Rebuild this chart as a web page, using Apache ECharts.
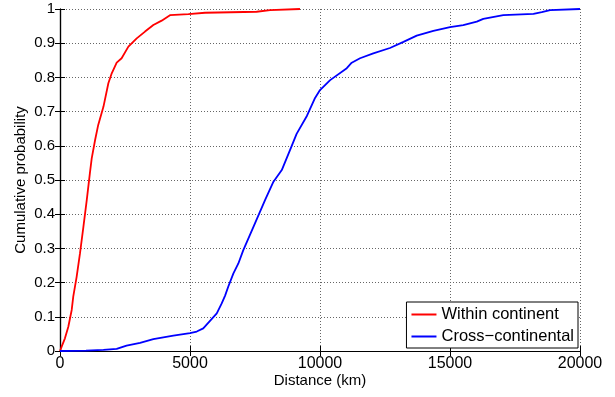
<!DOCTYPE html>
<html>
<head>
<meta charset="utf-8">
<script src="https://cdn.jsdelivr.net/npm/echarts@6/dist/echarts.min.js"></script>
<style>
  html, body { margin: 0; padding: 0; background: #fff; }
  #main { width: 615px; height: 397px; }
</style>
</head>
<body>
<div id="main"></div>
<script>
// 数据：累积分布曲线
var withinX = [0, 60, 190, 320, 450, 510, 640, 770, 900, 1030, 1150, 1220, 1350, 1470, 1670, 1860, 1990, 2180, 2370, 2630, 2950, 3270, 3590, 3910, 4230, 4940, 5580, 7560, 8080, 9230];
var withinY = [0, 0.012, 0.037, 0.071, 0.12, 0.159, 0.217, 0.286, 0.363, 0.442, 0.52, 0.563, 0.617, 0.661, 0.714, 0.783, 0.812, 0.843, 0.856, 0.89, 0.914, 0.934, 0.953, 0.966, 0.982, 0.985, 0.989, 0.992, 0.997, 1.0];

var crossX = [0, 1000, 1670, 2180, 2560, 3080, 3590, 4360, 5000, 5260, 5510, 5770, 6030, 6220, 6350, 6470, 6670, 6860, 7050, 7440, 7890, 8210, 8530, 8850, 9100, 9500, 9810, 10000, 10390, 11030, 11220, 11540, 12050, 12690, 13210, 13720, 14360, 15000, 15510, 16030, 16280, 17050, 18210, 18530, 18850, 20000];
var crossY = [0, 0.001, 0.003, 0.006, 0.016, 0.024, 0.035, 0.045, 0.052, 0.057, 0.066, 0.088, 0.11, 0.139, 0.162, 0.188, 0.227, 0.256, 0.295, 0.363, 0.442, 0.495, 0.529, 0.588, 0.635, 0.688, 0.74, 0.763, 0.792, 0.827, 0.843, 0.856, 0.87, 0.886, 0.904, 0.922, 0.936, 0.947, 0.953, 0.963, 0.971, 0.982, 0.986, 0.991, 0.997, 1.0];

var seriesNames = ["Within continent", "Cross\u2212continental"];

function pairs(xs, ys) {
  return xs.map(function (x, i) { return [x, ys[i]]; });
}

var font = "'Liberation Sans', Arial, Helvetica, sans-serif";
var gridLine = { show: true, lineStyle: { color: "#666", type: [1, 2], width: 1 } };
var axisLine = { show: true, lineStyle: { color: "#000", width: 1.2 } };
var tick = { show: true, inside: true, length: 5, lineStyle: { color: "#000" } };

var myChart = echarts.init(document.getElementById("main"));
myChart.setOption({
  animation: false,
  textStyle: { fontFamily: font },
  grid: { left: 60, right: 35, top: 9, bottom: 46 },
  legend: {
    data: seriesNames,
    orient: "vertical",
    right: 37,
    bottom: 49,
    padding: [4, 4, 3, 5],
    itemGap: 5,
    itemWidth: 25,
    itemHeight: 2,
    icon: "rect",
    borderColor: "#000",
    borderWidth: 1,
    borderRadius: 0,
    backgroundColor: "#fff",
    textStyle: { fontSize: 16.5, color: "#000", fontFamily: font }
  },
  xAxis: [
    {
      type: "value",
      min: 0,
      max: 20000,
      interval: 5000,
      name: "Distance (km)",
      nameLocation: "middle",
      nameGap: 22,
      nameMoveOverlap: false,
      nameTextStyle: { fontSize: 15, color: "#000" },
      axisLine: axisLine,
      axisTick: tick,
      axisLabel: { fontSize: 16, color: "#000", margin: 5, formatter: function (v) { return String(v); } },
      splitLine: gridLine
    },
    {
      type: "value",
      position: "top",
      min: 0,
      max: 20000,
      interval: 5000,
      axisLine: axisLine,
      axisTick: tick,
      axisLabel: { show: false },
      splitLine: { show: false }
    }
  ],
  yAxis: [
    {
      type: "value",
      min: 0,
      max: 1,
      interval: 0.1,
      name: "Cumulative probability",
      nameLocation: "middle",
      nameGap: 32,
      nameMoveOverlap: false,
      nameTextStyle: { fontSize: 15, color: "#000" },
      axisLine: axisLine,
      axisTick: tick,
      axisLabel: { fontSize: 15, color: "#000", margin: 5 },
      splitLine: gridLine
    },
    {
      type: "value",
      position: "right",
      min: 0,
      max: 1,
      interval: 0.1,
      axisLine: axisLine,
      axisTick: tick,
      axisLabel: { show: false },
      splitLine: { show: false }
    }
  ],
  series: [
    {
      name: seriesNames[0],
      type: "line",
      data: pairs(withinX, withinY),
      showSymbol: false,
      lineStyle: { color: "#ff0000", width: 1.8 },
      itemStyle: { color: "#ff0000" },
      z: 3
    },
    {
      name: seriesNames[1],
      type: "line",
      data: pairs(crossX, crossY),
      showSymbol: false,
      lineStyle: { color: "#0000ff", width: 1.8 },
      itemStyle: { color: "#0000ff" },
      z: 3
    }
  ]
});
</script>
</body>
</html>
